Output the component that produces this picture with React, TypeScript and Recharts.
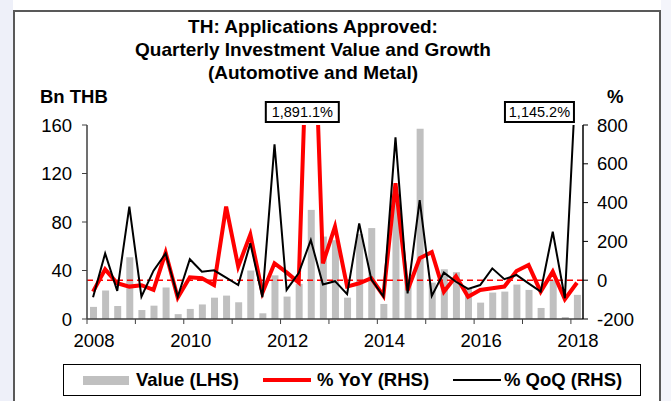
import {
  Bar,
  ComposedChart,
  Legend,
  Line,
  ReferenceDot,
  ReferenceLine,
  XAxis,
  YAxis,
} from "recharts";

const quarters = [
  "2008Q1", "2008Q2", "2008Q3", "2008Q4",
  "2009Q1", "2009Q2", "2009Q3", "2009Q4",
  "2010Q1", "2010Q2", "2010Q3", "2010Q4",
  "2011Q1", "2011Q2", "2011Q3", "2011Q4",
  "2012Q1", "2012Q2", "2012Q3", "2012Q4",
  "2013Q1", "2013Q2", "2013Q3", "2013Q4",
  "2014Q1", "2014Q2", "2014Q3", "2014Q4",
  "2015Q1", "2015Q2", "2015Q3", "2015Q4",
  "2016Q1", "2016Q2", "2016Q3", "2016Q4",
  "2017Q1", "2017Q2", "2017Q3", "2017Q4",
  "2018Q1",
];

// Bn THB (LHS)
const valueBn = [
  10, 23.5, 10.7, 51, 7.4, 11, 26, 4, 8.3, 12, 17.6, 19.3, 13.8, 40, 4.7, 36,
  18.5, 29, 90, 68, 65, 17.6, 70, 75, 12.4, 103, 31, 157, 30, 41, 38.6, 25.4,
  13.5, 21.8, 22.6, 28.4, 24, 9.1, 32.3, 1.6, 19.9,
];

// % YoY (RHS)
const yoyPct = [
  -59, 56, -16, -33, -26, -50, 142, -90, 15, 10, -25, 379, 70, 235, -65, 87,
  40, -12, 1891.1, 87, 276, -33, -16, 10, -80, 500, -52, 113, 145, -59, 20, -85,
  -50, -42, -33, 47, 78, -59, 44, -98, -13,
];

// % QoQ (RHS)
const qoqPct = [
  -88, 138, -55, 379, -85, 49, 138, -85, 108, 44, 51, 13, -25, 190, -88, 700,
  -50, 37, 207, -22, -5, -72, 293, 5, -84, 736, -68, 413, -81, 39, -8, -45,
  -25, 61, 5, 27, -16, -59, 250, -93, 1145.2,
];

const leftTicks = [0, 40, 80, 120, 160];
const rightTicks = [-200, 0, 200, 400, 600, 800];

const data = quarters.map((q, i) => ({
  q,
  value: valueBn[i],
  yoy: yoyPct[i],
  qoq: qoqPct[i],
}));

const FONT = "'Liberation Sans', Arial, sans-serif";
const FS = 18.5;
const W = 671;
const H = 401;
const MARGIN = { top: 125, right: 28, bottom: 52, left: 27 };
const AXIS_W = 60;
const PLOT_W = W - MARGIN.left - MARGIN.right - AXIS_W * 2;
const BAND = PLOT_W / quarters.length;

function YearTick(props: any) {
  const { x, y, index, payload } = props;
  if (index % 4 !== 0) return <g />;
  return (
    <g>
      <line x1={x - BAND / 2} x2={x - BAND / 2} y1={y} y2={y + 5} stroke="#404040" strokeWidth={1} />
      {index % 8 === 0 && (
        <text x={x + 1} y={y + 28} textAnchor="middle" fontSize={FS} fill="#000" fontFamily={FONT}>
          {String(payload.value).slice(0, 4)}
        </text>
      )}
    </g>
  );
}

function callout(text: string, dx: number, w: number) {
  return (props: any) => {
    const { cx, cy } = props;
    return (
      <g>
        <rect x={cx + dx} y={cy - 23} width={w} height={20} fill="#fff" stroke="#000" strokeWidth={2} />
        <text x={cx + dx + w / 2} y={cy - 8} textAnchor="middle" fontSize={14.5} fill="#000" fontFamily={FONT}>
          {text}
        </text>
      </g>
    );
  };
}

function LegendBox() {
  const item = { position: "absolute" as const, top: 4, fontSize: FS, fontWeight: 700, lineHeight: "22px", whiteSpace: "nowrap" as const };
  return (
    <div style={{ position: "relative", width: 578, height: 32, border: "1.5px solid #000", boxSizing: "border-box", background: "#fff", fontFamily: FONT }}>
      <div style={{ position: "absolute", left: 19, top: 11, width: 46, height: 9, background: "#c0c0c0" }} />
      <span style={{ ...item, left: 72 }}>Value (LHS)</span>
      <div style={{ position: "absolute", left: 199, top: 13, width: 48, height: 4, background: "#ff0000" }} />
      <span style={{ ...item, left: 253 }}>% YoY (RHS)</span>
      <div style={{ position: "absolute", left: 389, top: 14, width: 48, height: 2, background: "#000" }} />
      <span style={{ ...item, left: 440 }}>% QoQ (RHS)</span>
    </div>
  );
}

export default function App() {
  return (
    <div style={{ position: "relative", width: W, height: H, overflow: "hidden", background: "#fff", fontFamily: FONT }}>
      <style>{"body{margin:0}"}</style>
      <div style={{ position: "absolute", left: 0, top: 0, width: 13, height: H, background: "#eef0f9" }} />
      <div style={{ position: "absolute", left: 661, top: 0, width: 10, height: H, background: "#f4f5fb" }} />
      <div
        style={{
          position: "absolute",
          left: 13,
          top: 10,
          width: 648,
          height: H,
          border: "2px solid #595959",
          boxSizing: "border-box",
          background: "#fff",
        }}
      />
      <div style={{ position: "absolute", left: 0, top: 15, width: 626, textAlign: "center", fontSize: 19, fontWeight: 700, lineHeight: "23px", color: "#000" }}>
        <div>TH: Applications Approved:</div>
        <div>Quarterly Investment Value and Growth</div>
        <div>(Automotive and Metal)</div>
      </div>
      <div style={{ position: "absolute", left: 40, top: 86, fontSize: FS, fontWeight: 700, lineHeight: "22px" }}>Bn THB</div>
      <div style={{ position: "absolute", left: 607, top: 86, fontSize: FS, fontWeight: 700, lineHeight: "22px" }}>%</div>
      <div style={{ position: "absolute", left: 0, top: 0 }}>
        <ComposedChart width={W} height={H} data={data} margin={MARGIN}>
          <XAxis
            dataKey="q"
            interval={0}
            height={30}
            tickLine={false}
            tickSize={0}
            tickMargin={0}
            axisLine={{ stroke: "#404040", strokeWidth: 1.5 }}
            tick={<YearTick />}
          />
          <YAxis
            yAxisId="left"
            orientation="left"
            width={AXIS_W}
            domain={[0, 160]}
            ticks={leftTicks}
            interval={0}
            tickSize={5}
            tickMargin={10}
            axisLine={{ stroke: "#404040", strokeWidth: 1.5 }}
            tickLine={{ stroke: "#404040" }}
            tick={{ fill: "#000", fontSize: FS, fontFamily: FONT }}
          />
          <YAxis
            yAxisId="right"
            orientation="right"
            width={AXIS_W}
            domain={[-200, 800]}
            ticks={rightTicks}
            interval={0}
            allowDataOverflow
            tickSize={5}
            tickMargin={9}
            axisLine={{ stroke: "#000", strokeWidth: 1.5 }}
            tickLine={{ stroke: "#000" }}
            tick={{ fill: "#000", fontSize: FS, fontFamily: FONT }}
          />
          <Bar yAxisId="left" dataKey="value" name="Value (LHS)" fill="#c0c0c0" barSize={7} isAnimationActive={false} />
          <ReferenceLine yAxisId="right" y={0} stroke="#ff0000" strokeWidth={1.5} strokeDasharray="6 4" />
          <Line
            yAxisId="right"
            type="linear"
            dataKey="yoy"
            name="% YoY (RHS)"
            stroke="#ff0000"
            strokeWidth={4}
            dot={false}
            activeDot={false}
            isAnimationActive={false}
          />
          <Line
            yAxisId="right"
            type="linear"
            dataKey="qoq"
            name="% QoQ (RHS)"
            stroke="#000"
            strokeWidth={2}
            dot={false}
            activeDot={false}
            isAnimationActive={false}
          />
          <ReferenceDot yAxisId="right" x="2012Q3" y={800} r={0} shape={callout("1,891.1%", -45, 73)} />
          <ReferenceDot yAxisId="right" x="2018Q1" y={800} r={0} shape={callout("1,145.2%", -72, 69)} />
          <Legend
            layout="horizontal"
            verticalAlign="middle"
            align="center"
            width={578}
            wrapperStyle={{ left: 63, top: 364, width: 578 }}
            content={() => <LegendBox />}
          />
        </ComposedChart>
      </div>
    </div>
  );
}
